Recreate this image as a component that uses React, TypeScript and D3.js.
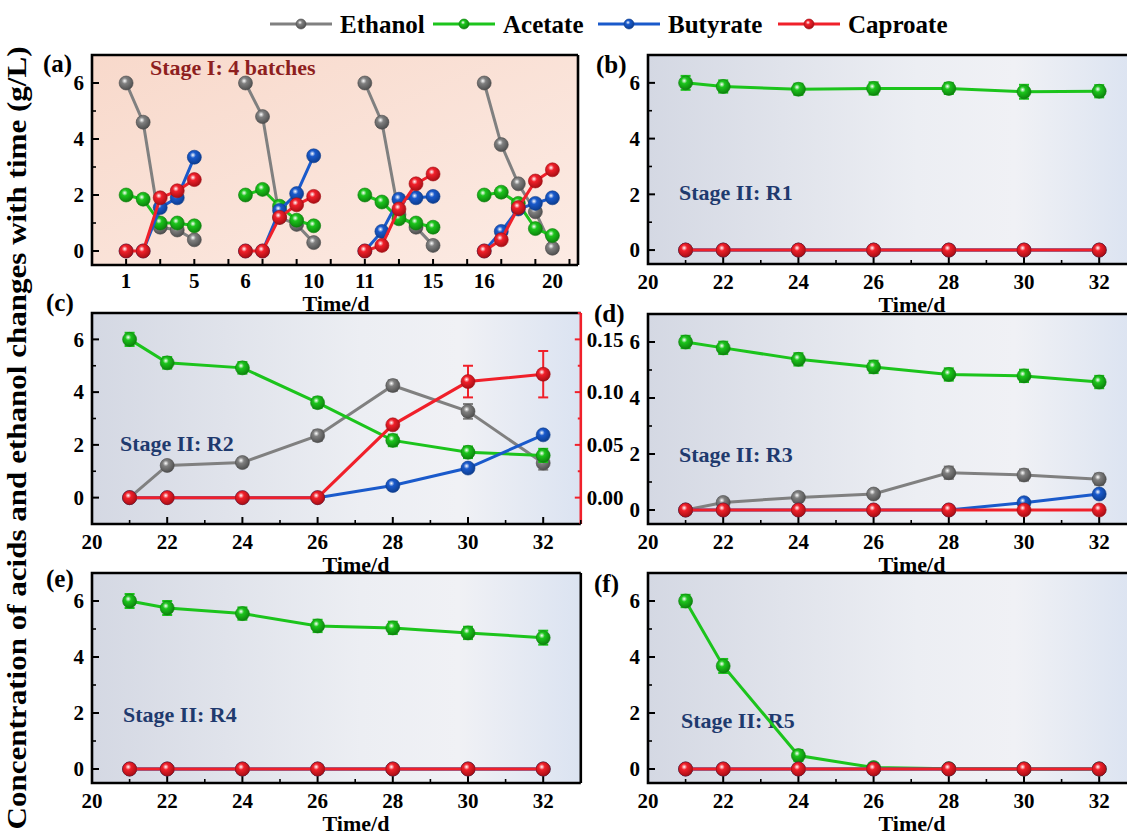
import React from 'react';
import * as d3 from 'd3';

// ---------------- data ----------------
const seriesNames = ['Ethanol', 'Acetate', 'Butyrate', 'Caproate'];
const seriesColors = ['#808080', '#1cc41c', '#1a5acb', '#f0202a'];
const seriesDark = ['#4a4a4a', '#0b7d0b', '#0b3a8a', '#a00c12'];

// Stage I (panel a): four 5-day batches
const daysA = [1, 2, 3, 4, 5, 6, 7, 8, 9, 10, 11, 12, 13, 14, 15, 16, 17, 18, 19, 20];
const tickLabelsA = [1, 5, 6, 10, 11, 15, 16, 20];
const ethanolA = [6.0, 4.6, 0.85, 0.75, 0.4, 6.0, 4.8, 1.2, 0.95, 0.3, 6.0, 4.6, 1.3, 0.85, 0.2, 6.0, 3.8, 2.4, 1.4, 0.1];
const acetateA = [2.0, 1.85, 1.0, 1.0, 0.9, 2.0, 2.2, 1.6, 1.1, 0.9, 2.0, 1.75, 1.15, 1.0, 0.85, 2.0, 2.1, 1.7, 0.8, 0.55];
const butyrateA = [0, 0, 1.55, 1.9, 3.35, 0, 0, 1.45, 2.05, 3.4, 0, 0.7, 1.85, 1.9, 1.95, 0, 0.7, 1.5, 1.7, 1.9];
const caproateA = [0, 0, 1.9, 2.15, 2.55, 0, 0, 1.2, 1.65, 1.95, 0, 0.2, 1.5, 2.4, 2.75, 0, 0.4, 1.55, 2.5, 2.9];

// Stage II (panels b-f)
const daysII = [21, 22, 24, 26, 28, 30, 32];
const xTickLabelsII = [20, 22, 24, 26, 28, 30, 32];
const yTickLabels = [0, 2, 4, 6];
const rightTicksC = [0, 0.05, 0.1, 0.15];
const rightTickLabelsC = ['0.00', '0.05', '0.10', '0.15'];

// R1
const ethanolR1 = [0, 0, 0, 0, 0, 0, 0];
const acetateR1 = [6.0, 5.87, 5.77, 5.8, 5.8, 5.68, 5.7];
const butyrateR1 = [0, 0, 0, 0, 0, 0, 0];
const caproateR1 = [0, 0, 0, 0, 0, 0, 0];
const acetateErrR1 = [0.25, 0.22, 0.2, 0.22, 0.2, 0.25, 0.22];
// R2
const ethanolR2 = [0, 1.22, 1.33, 2.35, 4.25, 3.27, 1.31];
const acetateR2 = [6.0, 5.11, 4.92, 3.6, 2.17, 1.72, 1.6];
const butyrateR2 = [0, 0, 0, 0, 0.46, 1.12, 2.38];
const caproateR2 = [0, 0, 0, 0, 0.069, 0.11, 0.117]; // right axis
const ethanolErrR2 = [0, 0.15, 0.15, 0.2, 0.2, 0.28, 0.25];
const acetateErrR2 = [0.25, 0.22, 0.22, 0.2, 0.22, 0.22, 0.25];
const caproateErrR2 = [0, 0, 0, 0, 0.002, 0.015, 0.022];
// R3
const ethanolR3 = [0, 0.27, 0.45, 0.57, 1.33, 1.25, 1.1];
const acetateR3 = [6.0, 5.79, 5.38, 5.11, 4.84, 4.79, 4.57];
const butyrateR3 = [0, 0, 0, 0, 0, 0.26, 0.57];
const caproateR3 = [0, 0, 0, 0, 0, 0, 0];
const ethanolErrR3 = [0, 0.15, 0.15, 0.15, 0.22, 0.2, 0.2];
const acetateErrR3 = [0.22, 0.22, 0.22, 0.22, 0.22, 0.22, 0.22];
// R4
const ethanolR4 = [0, 0, 0, 0, 0, 0, 0];
const acetateR4 = [6.0, 5.75, 5.55, 5.11, 5.04, 4.86, 4.69];
const butyrateR4 = [0, 0, 0, 0, 0, 0, 0];
const caproateR4 = [0, 0, 0, 0, 0, 0, 0];
const acetateErrR4 = [0.25, 0.25, 0.22, 0.22, 0.22, 0.22, 0.25];
// R5
const ethanolR5 = [0, 0, 0, 0, 0, 0, 0];
const acetateR5 = [6.0, 3.68, 0.48, 0.05, 0.01, 0, 0];
const butyrateR5 = [0, 0, 0, 0, 0, 0, 0];
const caproateR5 = [0, 0, 0, 0, 0, 0, 0];
const acetateErrR5 = [0.22, 0.25, 0.2, 0.15, 0, 0, 0];

const yTitle = 'Concentration of acids and ethanol changes with time (g/L)';

// ---------------- layout ----------------
const W = 1127;
const H = 835;
const FONT = '"Liberation Serif", "Times New Roman", Times, serif';
const UNIT_II = 37.6;
const TICK_FS = 21;

type Series = { values: number[]; err?: number[]; color: number; right?: boolean };

const Marker = ({ x, y, c, r = 7 }: { x: number; y: number; c: number; r?: number }) => (
  <circle cx={x} cy={y} r={r} fill={`url(#mk${c})`} stroke={seriesDark[c]} strokeWidth={0.6} />
);

function ErrBar({ x, y0, y1, c }: { x: number; y0: number; y1: number; c: number }) {
  if (Math.abs(y1 - y0) < 1) return null;
  return (
    <g stroke={seriesColors[c]} strokeWidth={2}>
      <line x1={x} x2={x} y1={y0} y2={y1} />
      <line x1={x - 5} x2={x + 5} y1={y0} y2={y0} />
      <line x1={x - 5} x2={x + 5} y1={y1} y2={y1} />
    </g>
  );
}

function Frame({ x0, y0, x1, y1, bg, rightColor }: any) {
  return (
    <g>
      <rect x={x0} y={y0} width={x1 - x0} height={y1 - y0} fill={`url(#${bg})`} />
      <path d={`M${x1},${y0} L${x0},${y0} L${x0},${y1} L${x1},${y1}`} fill="none" stroke="#000" strokeWidth={2.6} />
      <line x1={x1} x2={x1} y1={y0} y2={y1} stroke={rightColor || '#000'} strokeWidth={2.6} />
    </g>
  );
}

function YAxis({ y, x0, labels }: any) {
  const [d0, d1] = y.domain();
  const minor = d3.range(Math.ceil(d0), Math.floor(d1) + 1).filter((v: number) => v % 2 !== 0 && y(v) > y.range()[1] + 2 && y(v) < y.range()[0] - 2);
  return (
    <g>
      {labels.map((v: number) => (
        <g key={v}>
          <line x1={x0} x2={x0 + 7} y1={y(v)} y2={y(v)} stroke="#000" strokeWidth={2} />
          <text x={x0 - 8} y={y(v)} dy="0.35em" textAnchor="end" fontSize={TICK_FS} fontWeight="bold" fontFamily={FONT}>{v}</text>
        </g>
      ))}
      {minor.map((v: number) => (
        <line key={'m' + v} x1={x0} x2={x0 + 4} y1={y(v)} y2={y(v)} stroke="#000" strokeWidth={1.6} />
      ))}
    </g>
  );
}

function PanelII({ x0, y0, y1, yDomain, series, label, stage, stageY, rightAxis }: any) {
  const x = d3.scaleLinear().domain([20, 33]).range([x0, x0 + 13 * UNIT_II]);
  const y = d3.scaleLinear().domain(yDomain).range([y1, y0]);
  const yR = d3.scaleLinear().domain([yDomain[0] / 40, yDomain[1] / 40]).range([y1, y0]);
  const x1 = x0 + 13 * UNIT_II;
  const line = (ys: any) => d3.line<number>().x((_, i) => x(daysII[i])).y((v) => ys(v));
  const minorX = d3.range(21, 34, 2);
  return (
    <g>
      <Frame x0={x0} y0={y0} x1={x1} y1={y1} bg="bgBlue" rightColor={rightAxis ? '#f0202a' : '#000'} />
      {xTickLabelsII.map((v) => (
        <g key={v}>
          <line x1={x(v)} x2={x(v)} y1={y1} y2={y1 - 7} stroke="#000" strokeWidth={2} />
          <text x={x(v)} y={y1 + 25} textAnchor="middle" fontSize={TICK_FS} fontWeight="bold" fontFamily={FONT}>{v}</text>
        </g>
      ))}
      {minorX.map((v) => (
        <line key={'mx' + v} x1={x(v)} x2={x(v)} y1={y1} y2={y1 - 4} stroke="#000" strokeWidth={1.6} />
      ))}
      <text x={x0 + 264} y={y1 + 48} textAnchor="middle" fontSize={22} fontWeight="bold" fontFamily={FONT}>Time/d</text>
      <YAxis y={y} x0={x0} labels={yTickLabels} />
      {rightAxis && (
        <g>
          {d3.range(0, 0.176, 0.025).map((v, i) => (
            <line key={'r' + i} x1={x1} x2={x1 - (i % 2 === 0 ? 6 : 3)} y1={yR(v)} y2={yR(v)} stroke="#f0202a" strokeWidth={2} />
          ))}
          {rightTicksC.map((v, i) => (
            <text key={'rl' + i} x={x1 + 6} y={yR(v)} dy="0.35em" fontSize={TICK_FS} fontWeight="bold" fontFamily={FONT}>{rightTickLabelsC[i]}</text>
          ))}
        </g>
      )}
      <text x={stage.x} y={stageY} fontSize={22} fontWeight="bold" fontFamily={FONT} fill="#1f3a6e">{stage.text}</text>
      {series.map((s: Series, si: number) => {
        const ys = s.right ? yR : y;
        return (
          <g key={si}>
            <path d={line(ys)(s.values) || ''} fill="none" stroke={seriesColors[s.color]} strokeWidth={3} />
            {s.err && s.values.map((v, i) => (
              <ErrBar key={'e' + i} x={x(daysII[i])} y0={ys(v - s.err![i])} y1={ys(v + s.err![i])} c={s.color} />
            ))}
            {s.values.map((v, i) => (
              <Marker key={i} x={x(daysII[i])} y={ys(v)} c={s.color} />
            ))}
          </g>
        );
      })}
      <text x={label.x} y={label.y} fontSize={25} fontWeight="bold" fontFamily={FONT}>{label.text}</text>
    </g>
  );
}

function PanelA() {
  const x0 = 92, x1 = 578, y0 = 55, y1 = 265;
  const u = (d: number) => d + 2 * Math.floor((d - 1) / 5);
  const xs = d3.scaleLinear().domain([-1, 27.5]).range([x0, x1]);
  const y = d3.scaleLinear().domain([-0.5, 7]).range([y1, y0]);
  const all = [ethanolA, acetateA, butyrateA, caproateA];
  const batches = d3.range(4);
  const ticks = d3.range(1, 28, 2);
  const line = d3.line<[number, number]>().x((p) => xs(u(p[0]))).y((p) => y(p[1]));
  return (
    <g>
      <Frame x0={x0} y0={y0} x1={x1} y1={y1} bg="bgPeach" />
      {ticks.map((t) => (
        <line key={t} x1={xs(t)} x2={xs(t)} y1={y1} y2={y1 - 6} stroke="#000" strokeWidth={2} />
      ))}
      {tickLabelsA.map((d) => (
        <text key={d} x={xs(u(d))} y={y1 + 23} textAnchor="middle" fontSize={TICK_FS} fontWeight="bold" fontFamily={FONT}>{d}</text>
      ))}
      <text x={336} y={y1 + 46} textAnchor="middle" fontSize={22} fontWeight="bold" fontFamily={FONT}>Time/d</text>
      <YAxis y={y} x0={x0} labels={yTickLabels} />
      <text x={150} y={75} fontSize={22} fontWeight="bold" fontFamily={FONT} fill="#8e1f1f">Stage I: 4 batches</text>
      {all.map((vals, si) => {
        const zeroStart = si === 2; // butyrate line starts where it leaves zero
        return (
          <g key={si}>
            {batches.map((b) => {
              let pts: [number, number][] = daysA.slice(b * 5, b * 5 + 5).map((d, i) => [d, vals[b * 5 + i]]);
              if (zeroStart) {
                let k = 0;
                while (k + 1 < pts.length && pts[k + 1][1] === 0) k++;
                pts = pts.slice(k);
              }
              return <path key={b} d={line(pts) || ''} fill="none" stroke={seriesColors[si]} strokeWidth={3} />;
            })}
            {daysA.map((d, i) => (
              <Marker key={i} x={xs(u(d))} y={y(vals[i])} c={si} />
            ))}
          </g>
        );
      })}
      <text x={43} y={72} fontSize={25} fontWeight="bold" fontFamily={FONT}>(a)</text>
    </g>
  );
}

function Legend() {
  const xs = [270, 433, 598, 778];
  return (
    <g>
      {seriesNames.map((n, i) => (
        <g key={n}>
          <line x1={xs[i]} x2={xs[i] + 62} y1={24} y2={24} stroke={seriesColors[i]} strokeWidth={3} />
          <Marker x={xs[i] + 31} y={24} c={i} r={5} />
          <text x={xs[i] + 70} y={33} fontSize={25} fontWeight="bold" fontFamily={FONT}>{n}</text>
        </g>
      ))}
    </g>
  );
}

export default function App() {
  const R = 648;
  const L = 92;
  return (
    <svg width={W} height={H} style={{ position: 'absolute', left: 0, top: 0, background: '#fff' }} xmlns="http://www.w3.org/2000/svg">
      <defs>
        {seriesColors.map((c, i) => (
          <radialGradient key={i} id={`mk${i}`} cx="0.4" cy="0.35" r="0.7">
            <stop offset="0" stopColor="#ffffff" />
            <stop offset="0.3" stopColor={c} />
            <stop offset="1" stopColor={seriesDark[i]} />
          </radialGradient>
        ))}
        <linearGradient id="bgBlue" x1="0" x2="1" y1="0" y2="0">
          <stop offset="0" stopColor="#d4d8e3" />
          <stop offset="0.55" stopColor="#eceef3" />
          <stop offset="0.75" stopColor="#f0f1f5" />
          <stop offset="1" stopColor="#dbe3f1" />
        </linearGradient>
        <linearGradient id="bgPeach" x1="0" x2="1" y1="0" y2="1">
          <stop offset="0" stopColor="#f8d9cb" />
          <stop offset="1" stopColor="#fcebe4" />
        </linearGradient>
      </defs>
      <Legend />
      <PanelA />
      <PanelII x0={R} y0={55} y1={264} yDomain={[-0.5, 7]}
        series={[
          { values: ethanolR1, color: 0 },
          { values: acetateR1, err: acetateErrR1, color: 1 },
          { values: butyrateR1, color: 2 },
          { values: caproateR1, color: 3 },
        ]}
        label={{ text: '(b)', x: 596, y: 73 }} stage={{ text: 'Stage II: R1', x: 679 }} stageY={200} />
      <PanelII x0={L} y0={313} y1={524} yDomain={[-1, 7]} rightAxis
        series={[
          { values: ethanolR2, err: ethanolErrR2, color: 0 },
          { values: acetateR2, err: acetateErrR2, color: 1 },
          { values: butyrateR2, color: 2 },
          { values: caproateR2, err: caproateErrR2, color: 3, right: true },
        ]}
        label={{ text: '(c)', x: 46, y: 311 }} stage={{ text: 'Stage II: R2', x: 120 }} stageY={451} />
      <PanelII x0={R} y0={314} y1={524} yDomain={[-0.5, 7]}
        series={[
          { values: ethanolR3, err: ethanolErrR3, color: 0 },
          { values: acetateR3, err: acetateErrR3, color: 1 },
          { values: butyrateR3, color: 2 },
          { values: caproateR3, color: 3 },
        ]}
        label={{ text: '(d)', x: 594, y: 322 }} stage={{ text: 'Stage II: R3', x: 679 }} stageY={462} />
      <PanelII x0={L} y0={573} y1={783} yDomain={[-0.5, 7]}
        series={[
          { values: ethanolR4, color: 0 },
          { values: acetateR4, err: acetateErrR4, color: 1 },
          { values: butyrateR4, color: 2 },
          { values: caproateR4, color: 3 },
        ]}
        label={{ text: '(e)', x: 46, y: 587 }} stage={{ text: 'Stage II: R4', x: 123 }} stageY={722} />
      <PanelII x0={R} y0={573} y1={783} yDomain={[-0.5, 7]}
        series={[
          { values: ethanolR5, color: 0 },
          { values: acetateR5, err: acetateErrR5, color: 1 },
          { values: butyrateR5, color: 2 },
          { values: caproateR5, color: 3 },
        ]}
        label={{ text: '(f)', x: 594, y: 592 }} stage={{ text: 'Stage II: R5', x: 681 }} stageY={728} />
      <text transform="translate(26,438) rotate(-90)" textAnchor="middle" fontSize={28} fontWeight="bold" fontFamily={FONT}
        textLength={783} lengthAdjust="spacingAndGlyphs">{yTitle}</text>
    </svg>
  );
}
